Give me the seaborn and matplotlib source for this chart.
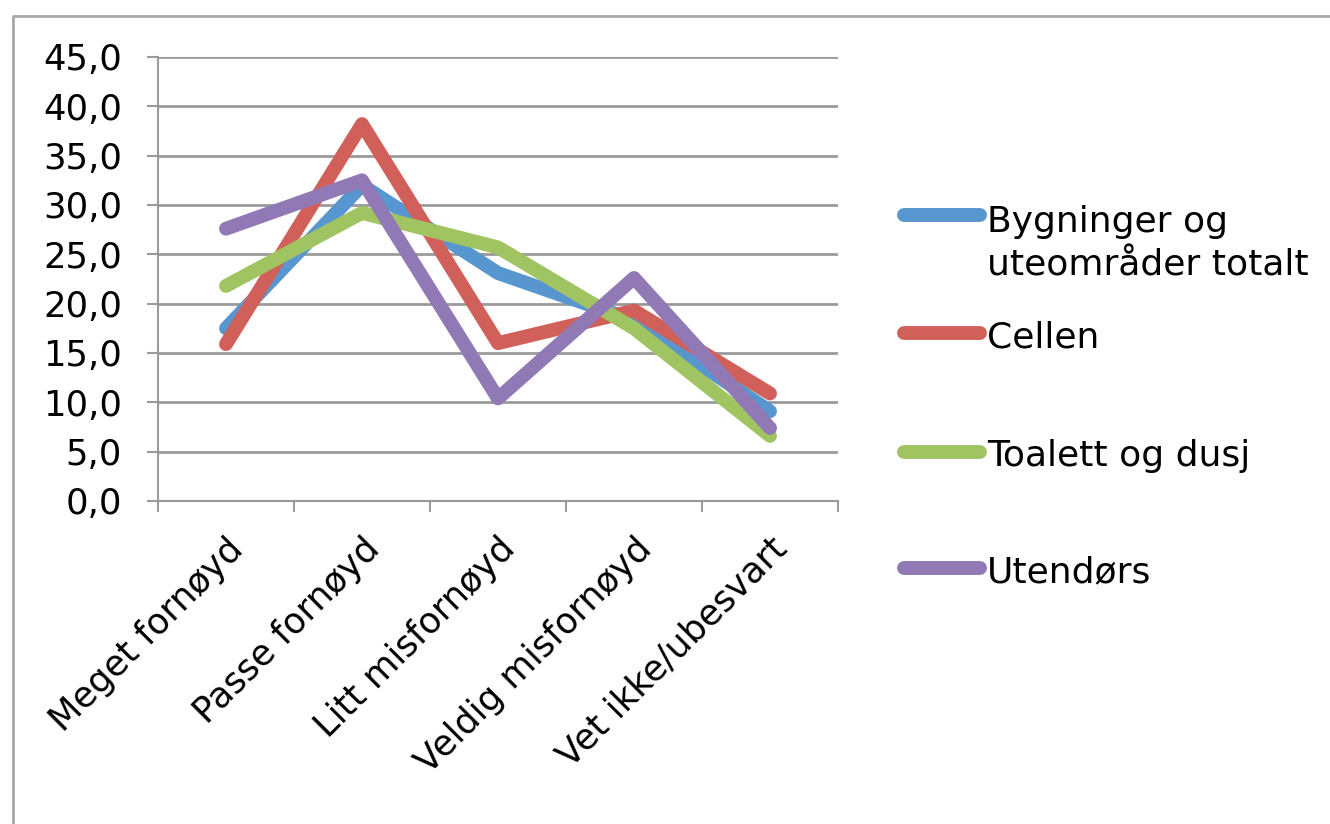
import matplotlib
matplotlib.use("Agg")
import matplotlib.pyplot as plt
from matplotlib.lines import Line2D
from matplotlib.ticker import FuncFormatter, FixedLocator
from matplotlib.transforms import ScaledTranslation
import seaborn as sns
import pandas as pd

categories = ["Meget fornøyd", "Passe fornøyd", "Litt misfornøyd", "Veldig misfornøyd", "Vet ikke/ubesvart"]
series_names = ["Bygninger og\nuteområder totalt", "Cellen", "Toalett og dusj", "Utendørs"]
bygninger = [17.5, 32.0, 23.1, 18.3, 9.1]
cellen = [15.9, 38.2, 16.0, 19.3, 10.9]
toalett = [21.8, 29.2, 25.7, 17.5, 6.6]
utendors = [27.6, 32.5, 10.4, 22.6, 7.4]
colors = ["#5796CF", "#D2605A", "#A1C462", "#9079B4"]

rows = []
for name, vals in zip(series_names, [bygninger, cellen, toalett, utendors]):
    for cat, v in zip(categories, vals):
        rows.append({"kategori": cat, "verdi": v, "serie": name})
df = pd.DataFrame(rows)

sns.set_style("white")
plt.rcParams["font.family"] = ["DejaVu Sans"]
plt.rcParams["text.color"] = "black"
plt.rcParams["xtick.labelcolor"] = "black"
plt.rcParams["ytick.labelcolor"] = "black"

fig = plt.figure(figsize=(13.3, 8.24), dpi=100)
ax = fig.add_axes([158 / 1330, 1 - 501 / 824, 680 / 1330, 444 / 824])

sns.lineplot(data=df, x="kategori", y="verdi", hue="serie", palette=colors,
             linewidth=10, ax=ax, legend=False, sort=False,
             solid_capstyle="round", solid_joinstyle="round")

ax.set_xlim(-0.5, 4.5)
ax.set_ylim(0, 45)
ax.set_yticks(range(0, 46, 5))
ax.yaxis.set_major_formatter(FuncFormatter(lambda v, p: f"{v:.1f}".replace(".", ",")))
ax.yaxis.grid(True, color="#9a9a9a", linewidth=2)
ax.set_axisbelow(True)

# category boundary ticks and centred labels
ax.xaxis.set_major_locator(FixedLocator([i - 0.5 for i in range(6)]))
ax.xaxis.set_minor_locator(FixedLocator(list(range(5))))
ax.set_xticklabels([], minor=False)
ax.set_xticklabels(categories, minor=True, rotation=45, ha="right", va="top",
                   rotation_mode="anchor", fontsize=25.5)
shift = ScaledTranslation(-9 / 100, 0, fig.dpi_scale_trans)
for lbl in ax.get_xticklabels(minor=True):
    lbl.set_transform(lbl.get_transform() + shift)
ax.tick_params(axis="x", which="major", direction="out", length=8, width=1.5,
               color="#9a9a9a", bottom=True)
ax.tick_params(axis="x", which="minor", length=0, pad=22)
ax.tick_params(axis="y", direction="out", length=8, width=1.5, color="#9a9a9a",
               left=True, labelsize=25.5, pad=18)
ax.set_xlabel("")
ax.set_ylabel("")

for side in ["top", "right"]:
    ax.spines[side].set_visible(False)
for side in ["left", "bottom"]:
    ax.spines[side].set_color("#9a9a9a")
    ax.spines[side].set_linewidth(1.5)

# legend drawn at right
legend_y = [215, 333, 452, 568]
legend_top = [205, 320, 439, 555]
for name, col, y, t in zip(series_names, colors, legend_y, legend_top):
    fy = 1 - y / 824
    fig.add_artist(Line2D([904 / 1330, 980 / 1330], [fy, fy], color=col, linewidth=10,
                          solid_capstyle="round", transform=fig.transFigure))
    fig.text(987 / 1330, 1 - t / 824, name, fontsize=26, va="top",
             ha="left", linespacing=1.35)

# outer frame (left and top only visible)
fig.add_artist(Line2D([13 / 1330, 13 / 1330, 1.0], [0.0, 1 - 16 / 824, 1 - 16 / 824],
                      color="#a8a8a8", linewidth=2, transform=fig.transFigure))

fig.savefig("out.png", dpi=100)
